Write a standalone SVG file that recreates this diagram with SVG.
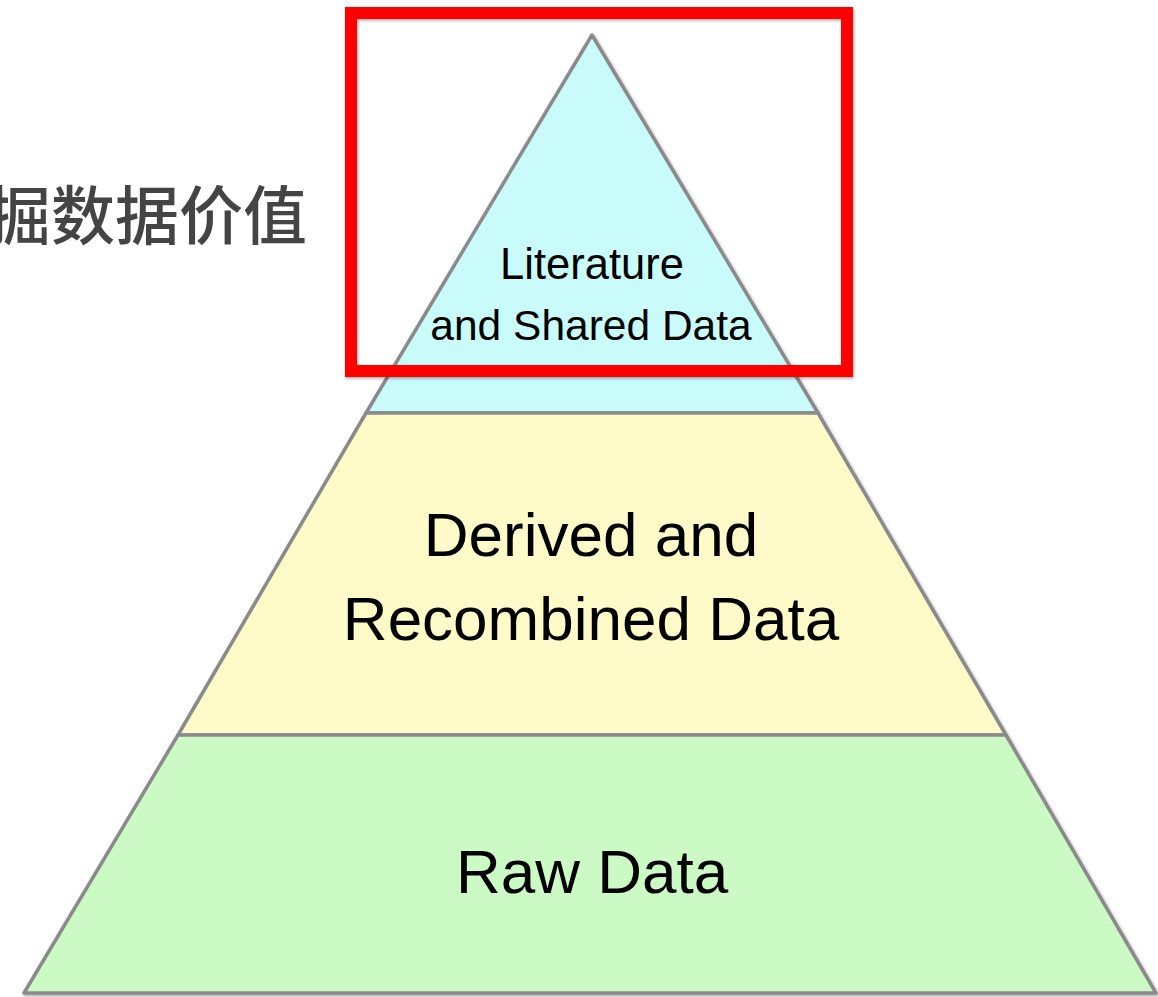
<svg xmlns="http://www.w3.org/2000/svg" width="1158" height="997" viewBox="0 0 1158 997">
<style>
.layer{stroke:#8a8a8a;stroke-width:3.5;stroke-linejoin:round}
.lbl{font-family:"Liberation Sans",Arial,sans-serif;fill:#000;text-anchor:middle}
.cjk{font-family:"Noto Sans CJK SC",sans-serif;fill:#444;font-weight:500}
</style>
<defs>
<filter id="sh" x="-5%" y="-5%" width="110%" height="110%">
<feDropShadow dx="1" dy="1.5" stdDeviation="1.5" flood-color="#000" flood-opacity="0.35"/>
</filter>
</defs>
<rect width="1158" height="997" fill="#fff"/>
<text class="cjk" x="-13" y="239" font-size="64">掘数据价值</text>
<g id="pyramid" filter="url(#sh)">
<g id="top">
<polygon class="layer" points="592,35 818,413 366,413" fill="#c9fbfb"/>
</g>
<g id="middle">
<polygon class="layer" points="366,413 818,413 1006,735 178,735" fill="#fffbc8"/>
</g>
<g id="bottom">
<polygon class="layer" points="178,735 1006,735 1156,993 24,993" fill="#ccfac4"/>
</g>
</g>
<g id="labels">
<text class="lbl" x="592" y="279" font-size="43.5">Literature</text>
<text class="lbl" x="591" y="340" font-size="42.5">and Shared Data</text>
<text class="lbl" x="591" y="556" font-size="62">Derived and</text>
<text class="lbl" x="591" y="640" font-size="62">Recombined Data</text>
<text class="lbl" x="592" y="893" font-size="62">Raw Data</text>
</g>
<g id="highlight" filter="url(#sh)">
<rect x="351" y="13" width="496" height="358" fill="none" stroke="#ff0000" stroke-width="12"/>
</g>
<g id="connectors"/>
</svg>
